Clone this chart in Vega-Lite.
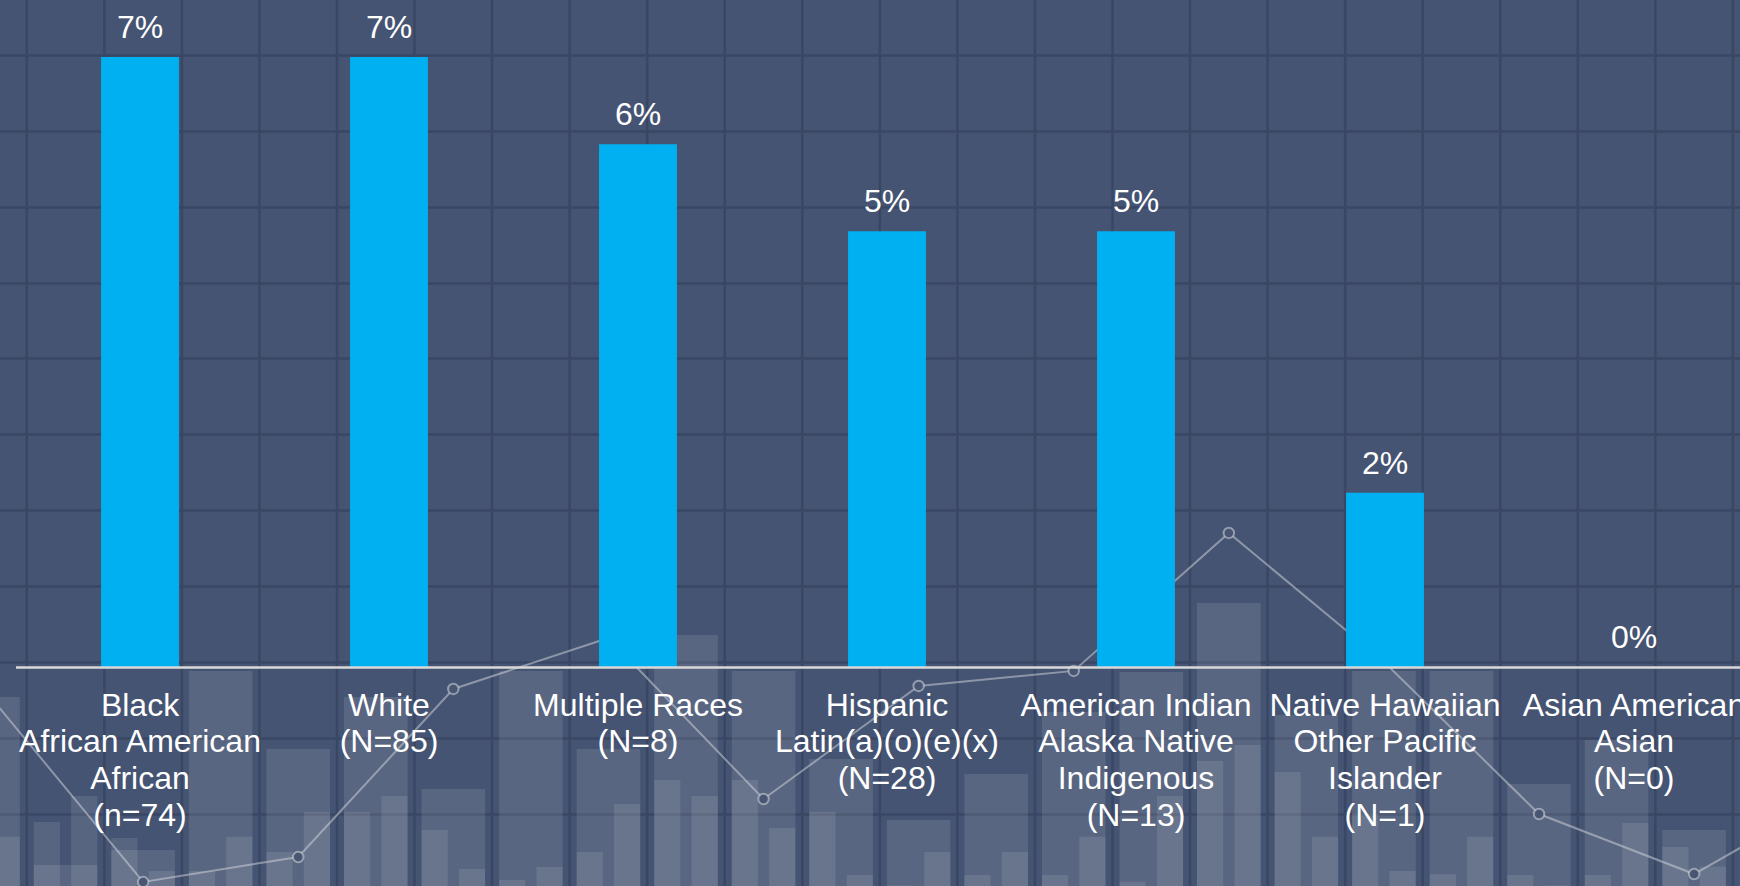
{
  "$schema": "https://vega.github.io/schema/vega-lite/v6.json",
  "width": 1740,
  "height": 886,
  "autosize": {"type": "none"},
  "padding": 0,
  "background": "#455472",
  "config": {"view": {"stroke": null}, "font": "Liberation Sans"},
  "datasets": {
    "races": [
      {"cat": "Black|African American|African|(n=74)", "pct": 0.07},
      {"cat": "White|(N=85)", "pct": 0.07},
      {"cat": "Multiple Races|(N=8)", "pct": 0.06},
      {"cat": "Hispanic|Latin(a)(o)(e)(x)|(N=28)", "pct": 0.05},
      {"cat": "American Indian|Alaska Native|Indigenous|(N=13)", "pct": 0.05},
      {"cat": "Native Hawaiian|Other Pacific|Islander|(N=1)", "pct": 0.02},
      {"cat": "Asian American|Asian|(N=0)", "pct": 0.0}
    ],
    "bg": [
      {"cell": -1, "wide": 2.536, "left": 0.0, "right": 0.692},
      {"cell": 0, "wide": 0.32, "left": 0.888, "right": 1.231},
      {"cell": 1, "wide": 0.519, "left": 0.677, "right": 0.242},
      {"cell": 2, "wide": 2.879, "left": 0.242, "right": 0.692},
      {"cell": 3, "wide": 1.85, "left": 0.493, "right": 1.02},
      {"cell": 4, "wide": 2.536, "left": 1.02, "right": 1.231},
      {"cell": 5, "wide": 1.323, "left": 0.783, "right": 0.269},
      {"cell": 6, "wide": 2.879, "left": 0.123, "right": 0.295},
      {"cell": 7, "wide": 1.85, "left": 0.493, "right": 1.125},
      {"cell": 8, "wide": 3.354, "left": 1.442, "right": 1.231},
      {"cell": 9, "wide": 2.879, "left": 1.442, "right": 0.809},
      {"cell": 10, "wide": 1.718, "left": 1.02, "right": 0.189},
      {"cell": 11, "wide": 0.914, "left": 0.05, "right": 0.493},
      {"cell": 12, "wide": 1.521, "left": 0.189, "right": 0.493},
      {"cell": 13, "wide": 2.338, "left": 0.189, "right": 0.692},
      {"cell": 14, "wide": 2.865, "left": 0.1, "right": 1.231},
      {"cell": 15, "wide": 3.775, "left": 1.692, "right": 1.904},
      {"cell": 16, "wide": 2.298, "left": 1.547, "right": 0.692},
      {"cell": 17, "wide": 2.879, "left": 1.0, "right": 0.242},
      {"cell": 18, "wide": 2.879, "left": 0.2, "right": 0.692},
      {"cell": 19, "wide": 1.389, "left": 0.189, "right": 0.05},
      {"cell": 20, "wide": 1.969, "left": 0.189, "right": 0.875},
      {"cell": 21, "wide": 0.783, "left": 0.558, "right": 0.3},
      {"cell": 22, "wide": 2.0, "left": 0.5, "right": 0.5}
    ],
    "trend": [
      {"cell": -1, "v": 2.576},
      {"cell": 1, "v": 0.097},
      {"cell": 3, "v": 0.427},
      {"cell": 5, "v": 2.642},
      {"cell": 7, "v": 3.314},
      {"cell": 9, "v": 1.191},
      {"cell": 11, "v": 2.682},
      {"cell": 13, "v": 2.88},
      {"cell": 15, "v": 4.699},
      {"cell": 17, "v": 3.0},
      {"cell": 19, "v": 0.993},
      {"cell": 21, "v": 0.202},
      {"cell": 23, "v": 1.362}
    ]
  },
  "layer": [
    {
      "layer": [
        {
          "data": {"name": "bg"},
          "mark": {"type": "rule", "color": "#3a4764", "strokeWidth": 2.5},
          "encoding": {
            "x": {"field": "cell", "type": "ordinal", "bandPosition": -0.11,
              "scale": {"domain": [-1,0,1,2,3,4,5,6,7,8,9,10,11,12,13,14,15,16,17,18,19,20,21,22,23], "range": [-50.75, 1888.0], "paddingInner": 0.18, "paddingOuter": 0.09},
              "axis": null}
          }
        },
        {
          "data": {"name": "bg"},
          "mark": {"type": "bar", "color": "#ffffff", "opacity": 0.11},
          "encoding": {
            "x": {"field": "cell", "type": "ordinal",
              "scale": {"domain": [-1,0,1,2,3,4,5,6,7,8,9,10,11,12,13,14,15,16,17,18,19,20,21,22,23], "range": [-50.75, 1888.0], "paddingInner": 0.18, "paddingOuter": 0.09},
              "axis": null},
            "y": {"field": "wide", "type": "quantitative",
              "scale": {"domain": [0, 11], "range": [889.35, 55]},
              "axis": {"values": [1,2,3,4,5,6,7,8,9,10,11], "grid": true, "gridColor": "#3a4764", "gridWidth": 2.5, "gridOpacity": 1, "labels": false, "ticks": false, "domain": false, "title": null, "zindex": 0}}
          }
        },
        {
          "data": {"name": "bg"},
          "transform": [{"fold": ["left", "right"], "as": ["side", "top"]}],
          "mark": {"type": "bar", "color": "#ffffff", "opacity": 0.1},
          "encoding": {
            "x": {"field": "cell", "type": "ordinal",
              "scale": {"domain": [-1,0,1,2,3,4,5,6,7,8,9,10,11,12,13,14,15,16,17,18,19,20,21,22,23], "range": [-50.75, 1888.0], "paddingInner": 0.18, "paddingOuter": 0.09},
              "axis": null},
            "xOffset": {"field": "side", "type": "nominal", "scale": {"domain": ["left", "right"], "paddingInner": 0.3, "paddingOuter": 0}},
            "y": {"field": "top", "type": "quantitative",
              "scale": {"domain": [0, 11], "range": [889.35, 55]},
              "axis": {"values": [1,2,3,4,5,6,7,8,9,10,11], "grid": true, "gridColor": "#3a4764", "gridWidth": 2.5, "gridOpacity": 1, "labels": false, "ticks": false, "domain": false, "title": null, "zindex": 0}}
          }
        },
        {
          "data": {"name": "trend"},
          "mark": {"type": "line", "color": "#d5d8de", "strokeWidth": 2, "opacity": 0.5},
          "encoding": {
            "x": {"field": "cell", "type": "ordinal",
              "scale": {"domain": [-1,0,1,2,3,4,5,6,7,8,9,10,11,12,13,14,15,16,17,18,19,20,21,22,23], "range": [-50.75, 1888.0], "paddingInner": 0.18, "paddingOuter": 0.09},
              "axis": null},
            "y": {"field": "v", "type": "quantitative",
              "scale": {"domain": [0, 11], "range": [889.35, 55]},
              "axis": {"values": [1,2,3,4,5,6,7,8,9,10,11], "grid": true, "gridColor": "#3a4764", "gridWidth": 2.5, "gridOpacity": 1, "labels": false, "ticks": false, "domain": false, "title": null, "zindex": 0}}
          }
        },
        {
          "data": {"name": "trend"},
          "mark": {"type": "point", "shape": "circle", "size": 110, "filled": true, "fill": "#485673", "fillOpacity": 1, "stroke": "#d5d8de", "strokeOpacity": 0.55, "strokeWidth": 2, "opacity": 1},
          "encoding": {
            "x": {"field": "cell", "type": "ordinal",
              "scale": {"domain": [-1,0,1,2,3,4,5,6,7,8,9,10,11,12,13,14,15,16,17,18,19,20,21,22,23], "range": [-50.75, 1888.0], "paddingInner": 0.18, "paddingOuter": 0.09},
              "axis": null},
            "y": {"field": "v", "type": "quantitative",
              "scale": {"domain": [0, 11], "range": [889.35, 55]},
              "axis": {"values": [1,2,3,4,5,6,7,8,9,10,11], "grid": true, "gridColor": "#3a4764", "gridWidth": 2.5, "gridOpacity": 1, "labels": false, "ticks": false, "domain": false, "title": null, "zindex": 0}}
          }
        }
      ]
    },
    {
      "data": {"name": "races"},
      "encoding": {
        "x": {"field": "cat", "type": "nominal", "sort": null,
          "scale": {"range": [15.5, 1758.5], "paddingInner": 0.687, "paddingOuter": 0.3435},
          "axis": {"orient": "bottom", "offset": -219, "zindex": 2, "domainColor": "#d9d9d9", "domainWidth": 2.5, "ticks": false, "tickSize": 0, "grid": false, "labelAngle": 0, "labelColor": "#ffffff", "labelFont": "Liberation Sans", "labelFontSize": 32, "labelPadding": 23, "labelBaseline": "top", "labelLineHeight": 36.7, "labelExpr": "split(datum.label, '|')", "labelLimit": 0, "labelOverlap": false, "labelBound": false, "labelFlush": false, "title": null}},
        "y": {"field": "pct", "type": "quantitative", "scale": {"domain": [0, 0.07], "range": [667, 57]}, "axis": null}
      },
      "layer": [
        {"mark": {"type": "bar", "color": "#00b0f0"}},
        {"mark": {"type": "text", "color": "#ffffff", "fontSize": 32, "baseline": "alphabetic", "dy": -19, "font": "Liberation Sans"},
          "encoding": {"text": {"field": "pct", "type": "quantitative", "format": ".0%"}}}
      ]
    }
  ],
  "resolve": {"scale": {"x": "independent", "y": "independent"}, "axis": {"x": "independent", "y": "independent"}}
}
